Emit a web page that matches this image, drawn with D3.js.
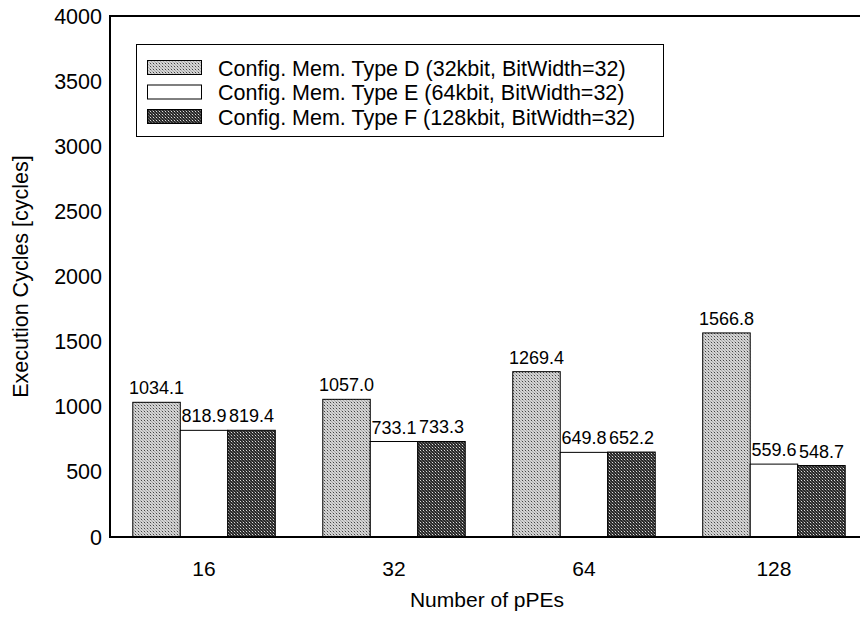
<!DOCTYPE html>
<html>
<head>
<meta charset="utf-8">
<script src="https://cdn.jsdelivr.net/npm/d3@7"></script>
<style>
  body { margin: 0; background: #fff; }
  text { font-family: "Liberation Sans", Arial, sans-serif; fill: #000; }
</style>
</head>
<body>
<div id="container"></div>
<script>
const width = 860;
const height = 625;
const margin = { top: 16, bottom: 88, left: 110, right: 0 };

// data
const groups = ["16", "32", "64", "128"];
const seriesNames = [
    "Config. Mem. Type D (32kbit, BitWidth=32)",
    "Config. Mem. Type E (64kbit, BitWidth=32)",
    "Config. Mem. Type F (128kbit, BitWidth=32)"
];
const typeD = [1034.1, 1057.0, 1269.4, 1566.8];
const typeE = [818.9, 733.1, 649.8, 559.6];
const typeF = [819.4, 733.3, 652.2, 548.7];
const yTicks = [0, 500, 1000, 1500, 2000, 2500, 3000, 3500, 4000];

const series = [typeD, typeE, typeF];
const fills = ["url(#patD)", "#fff", "url(#patF)"];

const svg = d3.select("#container")
    .append('svg')
    .attr('width', width)
    .attr('height', height)
    .attr('viewBox', [0, 0, width, height]);

// dotted fills like the original print
const defs = svg.append('defs');
function makePattern(id, bg, dot1, dot2) {
    const p = defs.append('pattern')
        .attr('id', id)
        .attr('patternUnits', 'userSpaceOnUse')
        .attr('width', 3)
        .attr('height', 3);
    p.append('rect').attr('width', 3).attr('height', 3).attr('fill', bg);
    p.append('rect').attr('x', 0).attr('y', 0).attr('width', 1).attr('height', 1).attr('fill', dot1);
    p.append('rect').attr('x', 1).attr('y', 1).attr('width', 1).attr('height', 1).attr('fill', dot2);
    p.append('rect').attr('x', 2).attr('y', 2).attr('width', 1).attr('height', 1).attr('fill', dot2);
}
makePattern('patD', '#d4d4d4', '#444', '#aaa');
makePattern('patF', '#2a2a2a', '#ddd', '#666');

const y = d3.scaleLinear()
    .domain([0, 4000])
    .range([height - margin.bottom, margin.top]);

const x0 = d3.scaleBand()
    .domain(groups)
    .range([margin.left, 868])
    .paddingInner(0.25)
    .paddingOuter(0.12);

const x1 = d3.scaleBand()
    .domain(d3.range(series.length))
    .range([0, x0.bandwidth()]);

// bars
series.forEach((vals, s) => {
    svg.append('g')
        .selectAll('rect')
        .data(vals)
        .join('rect')
        .attr('x', (d, i) => x0(groups[i]) + x1(s))
        .attr('y', d => y(d))
        .attr('width', x1.bandwidth())
        .attr('height', d => y(0) - y(d))
        .attr('fill', fills[s])
        .attr('stroke', '#000')
        .attr('stroke-width', 1);

    svg.append('g')
        .selectAll('text')
        .data(vals)
        .join('text')
        .attr('x', (d, i) => x0(groups[i]) + x1(s) + x1.bandwidth() / 2)
        .attr('y', d => y(d) - 8)
        .attr('text-anchor', 'middle')
        .attr('font-size', 18)
        .text(d => d.toFixed(1));
});

// frame lines
svg.append('line')
    .attr('x1', margin.left).attr('x2', width)
    .attr('y1', y(4000)).attr('y2', y(4000))
    .attr('stroke', '#000').attr('stroke-width', 2);
svg.append('line')
    .attr('x1', margin.left).attr('x2', width)
    .attr('y1', y(0)).attr('y2', y(0))
    .attr('stroke', '#000').attr('stroke-width', 2);
svg.append('line')
    .attr('x1', margin.left).attr('x2', margin.left)
    .attr('y1', y(4000) - 1).attr('y2', y(0) + 1)
    .attr('stroke', '#000').attr('stroke-width', 2);

// y tick labels
svg.append('g')
    .selectAll('text')
    .data(yTicks)
    .join('text')
    .attr('x', 102)
    .attr('y', d => y(d))
    .attr('dy', '0.35em')
    .attr('text-anchor', 'end')
    .attr('font-size', 21.5)
    .text(d => d);

// x tick labels
svg.append('g')
    .selectAll('text')
    .data(groups)
    .join('text')
    .attr('x', d => x0(d) + x0.bandwidth() / 2)
    .attr('y', 576)
    .attr('text-anchor', 'middle')
    .attr('font-size', 21)
    .text(d => d);

// axis titles
svg.append('text')
    .attr('x', 487)
    .attr('y', 607)
    .attr('text-anchor', 'middle')
    .attr('font-size', 21)
    .text('Number of pPEs');

svg.append('text')
    .attr('transform', `translate(28,${(y(0) + y(4000)) / 2}) rotate(-90)`)
    .attr('text-anchor', 'middle')
    .attr('font-size', 21.5)
    .text('Execution Cycles [cycles]');

// legend
const legend = svg.append('g');
legend.append('rect')
    .attr('x', 136.5).attr('y', 44.5)
    .attr('width', 527).attr('height', 92)
    .attr('fill', '#fff').attr('stroke', '#000').attr('stroke-width', 1);

seriesNames.forEach((name, i) => {
    const ly = 68 + i * 24.5;
    legend.append('rect')
        .attr('x', 147.5).attr('y', ly - 7.5)
        .attr('width', 54).attr('height', 14)
        .attr('fill', fills[i])
        .attr('stroke', '#000').attr('stroke-width', 1);
    legend.append('text')
        .attr('x', 218)
        .attr('y', ly)
        .attr('dy', '0.35em')
        .attr('font-size', 21.5)
        .text(name);
});
</script>
</body>
</html>
